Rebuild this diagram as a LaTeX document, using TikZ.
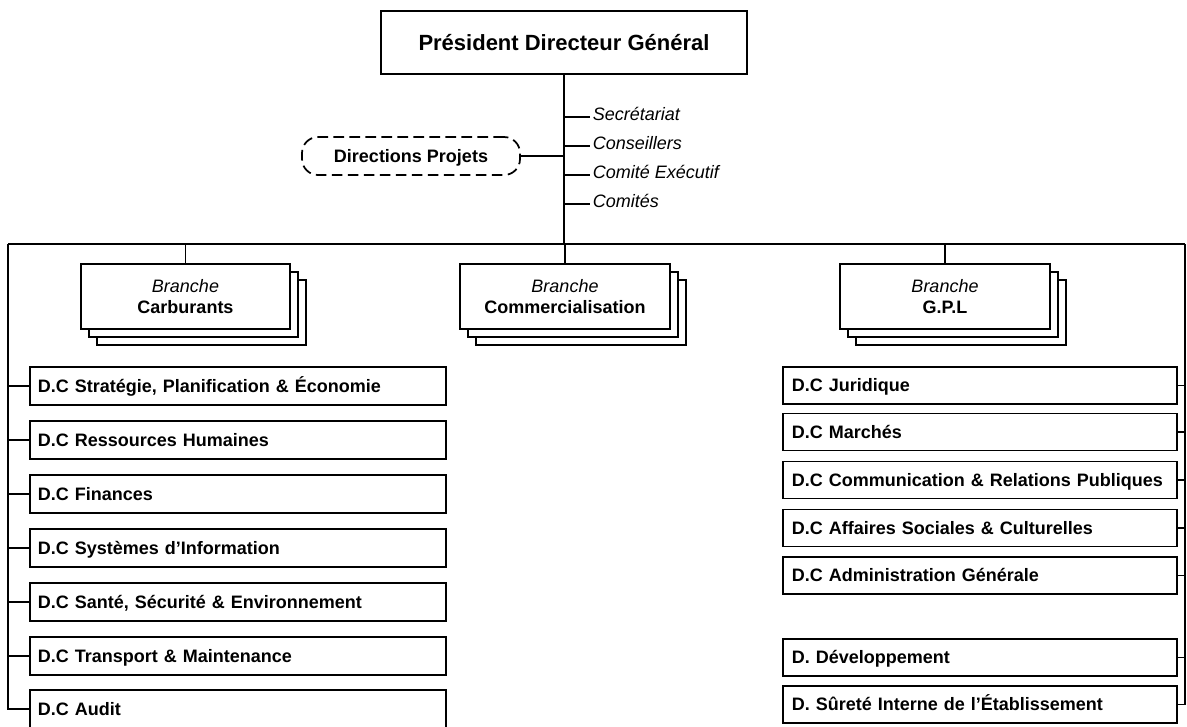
\documentclass[tikz,border=0pt]{standalone}
\usepackage{fontspec}
\setmainfont{Liberation Sans}
\usetikzlibrary{shadows}

\tikzset{
  txt/.style={font=\fontsize{13.5}{16}\selectfont},
  pdgbox/.style={draw, fill=white, minimum width=274.5pt, minimum height=47.25pt,
    inner sep=0pt, text height=11.8pt, text depth=0pt,
    font=\fontsize{16.5}{19}\selectfont\bfseries},
  branchbox/.style={draw, fill=white, minimum width=157pt, minimum height=48.75pt,
    inner sep=0pt, align=center, txt,
    general shadow={shadow xshift=12pt, shadow yshift=-12pt, draw, fill=white},
    general shadow={shadow xshift=6pt, shadow yshift=-6pt, draw, fill=white}},
  projbox/.style={draw, dash pattern=on 8pt off 4pt, rounded corners=12pt,
    minimum width=163.5pt, minimum height=28.5pt, inner sep=0pt,
    text height=9.7pt, text depth=0pt, txt, font=\fontsize{13.5}{16}\selectfont\bfseries},
  staff/.style={anchor=west, inner sep=0pt, text height=9.7pt, text depth=4.5pt,
    font=\fontsize{13.5}{16}\selectfont\itshape},
  lbox/.style={draw, fill=white, anchor=west, minimum height=28.5pt,
    text width=300pt, inner xsep=6pt, inner ysep=0pt, align=left,
    text height=9.7pt, text depth=0pt, font=\fontsize{13.5}{16}\selectfont\bfseries},
  rbox/.style={draw, fill=white, anchor=west, minimum height=27.75pt,
    text width=282pt, inner xsep=6.75pt, inner ysep=0pt, align=left,
    text height=9.7pt, text depth=0pt, font=\fontsize{13.5}{16}\selectfont\bfseries},
}

\begin{document}
\begin{tikzpicture}[x=0.75pt, y=-0.75pt, line width=1.3pt]
\useasboundingbox (0,0) rectangle (1187,726);
\clip (0,0) rectangle (1187,726);
\fill[white] (0,0) rectangle (1187,726);

% top of the hierarchy
\node[pdgbox] (pdg) at (564,42.5) {Président Directeur Général};

% the two sides of the main bus
\coordinate (busL) at (8,244);
\coordinate (busR) at (1185,244);

% staff services hanging off the trunk
\node[staff] (sec) at (592,117) {Secrétariat};
\node[staff] (cons) at (592,146) {Conseillers};
\node[staff] (comex) at (592,175) {Comité Exécutif};
\node[staff] (comites) at (592,204) {Comités};

\node[projbox] (proj) at (411,156) {Directions Projets};

\draw (pdg.south) -- (pdg.south |- busL);
\foreach \s in {sec,cons,comex,comites}
  \draw (\s.west -| pdg.south) -- ([xshift=-1.5pt]\s.west);
\draw (proj.east) -- (proj.east -| pdg.south);

% main bus
\draw (busL) -- (busR);

% branches
\node[branchbox] (bcarb) at (185.5,296.5) {\textit{Branche}\\\textbf{Carburants}};
\node[branchbox] (bcom) at (565,296.5) {\textit{Branche}\\\textbf{Commercialisation}};
\node[branchbox] (bgpl) at (945,296.5) {\textit{Branche}\\\textbf{G.P.L}};
\foreach \b in {bcarb,bcom,bgpl}
  \draw (\b.north) -- (\b.north |- busL);

% central directions, left column
\node[lbox] (l1) at (29,386) {D.C Stratégie, Planification \& Économie};
\node[lbox] (l2) at (29,440) {D.C Ressources Humaines};
\node[lbox] (l3) at (29,494) {D.C Finances};
\node[lbox] (l4) at (29,548) {D.C Systèmes d’Information};
\node[lbox] (l5) at (29,602) {D.C Santé, Sécurité \& Environnement};
\node[lbox] (l6) at (29,656) {D.C Transport \& Maintenance};
\node[lbox] (l7) at (29,709) {D.C Audit};

\draw (busL) |- (l7.west);
\foreach \n in {l1,l2,l3,l4,l5,l6}
  \draw (\n.west -| busL) -- (\n.west);

% central directions, right column
\node[rbox] (r1) at (782,385.5) {D.C Juridique};
\node[rbox] (r2) at (782,432) {D.C Marchés};
\node[rbox] (r3) at (782,480) {D.C Communication \& Relations Publiques};
\node[rbox] (r4) at (782,528) {D.C Affaires Sociales \& Culturelles};
\node[rbox] (r5) at (782,575.5) {D.C Administration Générale};
\node[rbox] (r6) at (782,657.5) {D. Développement};
\node[rbox] (r7) at (782,704.5) {D. Sûreté Interne de l’Établissement};

\draw (busR) |- (r7.east);
\foreach \n in {r1,r2,r3,r4,r5,r6}
  \draw (\n.east -| busR) -- (\n.east);
\end{tikzpicture}
\end{document}
